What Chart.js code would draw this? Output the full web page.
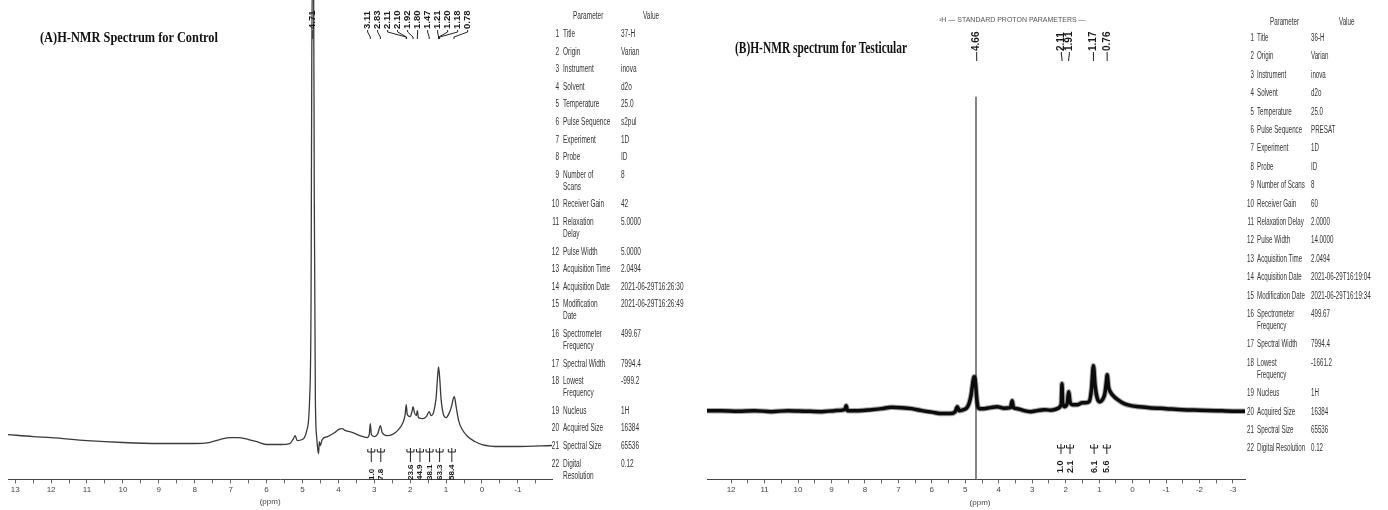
<!DOCTYPE html>
<html>
<head>
<meta charset="utf-8">
<script src="https://cdn.jsdelivr.net/npm/chart.js@4.4.1/dist/chart.umd.min.js"></script>
<style>
  body { margin: 0; background: #fff; }
  #page { position: relative; width: 1388px; height: 510px; overflow: hidden; background: #fff;
          font-family: "Liberation Sans", Arial, sans-serif; }
  .box { position: absolute; top: 0; height: 510px; }
  .t { position: absolute; white-space: pre; font-size: 10px; color: #333; }
  .ttl { position: absolute; white-space: nowrap; font-family: "Liberation Serif", "Times New Roman", serif;
         font-weight: bold; color: #111; transform-origin: 0 50%; }
  .std { position: absolute; white-space: nowrap; font-size: 7px; color: #555; }
</style>
</head>
<body>
<div id="page">
  <div class="box" id="boxA" style="left:0;width:556px"><canvas id="nmrA"></canvas></div>
  <div class="box" id="boxB" style="left:700px;width:548px"><canvas id="nmrB"></canvas></div>
  <div class="std" style="left:939px;top:16px">¹H — STANDARD PROTON PARAMETERS —</div>
</div>
<script>
// ---- data ----
// (A) control spectrum, ppm / intensity (arbitrary units)
const ctrlPpm = [13.2,12.5,12,11,10,9,8,7.6,7.3,7.0,6.8,6.5,6.2,6.0,5.6,5.35,5.25,5.2,5.15,5.0,4.88,4.8,4.76,4.74,4.72,4.69,4.67,4.64,4.6,4.57,4.55,4.53,4.5,4.45,4.3,4.1,4.0,3.9,3.8,3.6,3.4,3.2,3.14,3.11,3.08,3.0,2.9,2.83,2.78,2.65,2.5,2.35,2.2,2.14,2.11,2.08,2.0,1.95,1.92,1.88,1.83,1.80,1.77,1.65,1.55,1.47,1.42,1.35,1.28,1.24,1.21,1.18,1.14,1.08,1.0,0.92,0.85,0.8,0.77,0.72,0.65,0.55,0.4,0.2,0.0,-0.5,-1.0,-1.95];
const ctrlInt = [45,43,42,39,37,36,36,37,40,42,42,40,37,35,35,36,41,44,39,40,49,81,181,421,510,510,281,81,41,29,26,38,34,40,43,47,50,51,49,47,44,42,45,56,45,43,46,54,47,44,45,49,57,65,75,65,63,68,73,67,64,69,62,61,63,68,64,67,81,101,113,103,81,66,62,66,73,81,83,73,59,50,43,38,35,33,33,34];
const ctrlPeaks = [4.71,3.11,2.83,2.11,2.10,1.92,1.80,1.47,1.21,1.20,1.18,0.78];
const ctrlIntegralPpm = [3.08,2.82,1.99,1.73,1.46,1.18,0.84];
const ctrlIntegrals = ['1.0','7.8','23.6','44.9','38.1','63.3','58.4'];
const ctrlTicks = [13,12,11,10,9,8,7,6,5,4,3,2,1,0,-1];

// (B) testicular spectrum
const testPpm = [12.72,12.3,11.8,11.3,10.8,10.3,9.8,9.3,8.9,8.6,8.56,8.52,8.2,7.8,7.5,7.2,6.9,6.6,6.3,6.0,5.7,5.45,5.3,5.24,5.18,5.05,4.95,4.88,4.82,4.78,4.74,4.71,4.69,4.66,4.63,4.58,4.45,4.25,4.05,3.85,3.65,3.6,3.56,3.45,3.25,3.05,2.85,2.65,2.45,2.25,2.15,2.13,2.11,2.09,2.03,1.95,1.91,1.87,1.8,1.65,1.5,1.4,1.3,1.23,1.17,1.12,1.06,0.98,0.9,0.83,0.78,0.76,0.72,0.65,0.55,0.4,0.25,0.05,-0.2,-0.5,-1.0,-1.5,-2.0,-2.5,-3.0,-3.36];
const testInt = [69,69,68.5,69,68,69,68.5,68,69,70,74,69,69,70,71,72.5,72,71,69,67.5,66,66,68,73,69,70,72,77,86,96,103,101,95,82,74,71,71,72,73,71.5,72,79,72,71,69,68,69,70,69.5,71,74,77,96,77,73,77,88,78,75,75,77,77,78,90,114,94,82,78,80,86,99,105,93,87,83,79,76,74,73,72,71,70,69.5,69,68.5,68.5];
const testSpikePpm = [4.68,4.68];
const testSpikeInt = [384,-10];
const testPeaks = [4.66,2.11,1.91,1.17,0.76];
const testIntegralPpm = [2.14,1.87,1.15,0.77];
const testIntegrals = ['1.0','2.1','6.1','5.6'];
const testTicks = [12,11,10,9,8,7,6,5,4,3,2,1,0,-1,-2,-3];

// parameter tables
const paramNamesA = ['Title','Origin','Instrument','Solvent','Temperature','Pulse Sequence','Experiment','Probe','Number of\nScans','Receiver Gain','Relaxation\nDelay','Pulse Width','Acquisition Time','Acquisition Date','Modification\nDate','Spectrometer\nFrequency','Spectral Width','Lowest\nFrequency','Nucleus','Acquired Size','Spectral Size','Digital\nResolution'];
const paramValuesA = ['37-H','Varian','inova','d2o','25.0','s2pul','1D','ID','8','42','5.0000','5.0000','2.0494','2021-06-29T16:26:30','2021-06-29T16:26:49','499.67','7994.4','-999.2','1H','16384','65536','0.12'];
const paramNamesB = ['Title','Origin','Instrument','Solvent','Temperature','Pulse Sequence','Experiment','Probe','Number of Scans','Receiver Gain','Relaxation Delay','Pulse Width','Acquisition Time','Acquisition Date','Modification Date','Spectrometer\nFrequency','Spectral Width','Lowest\nFrequency','Nucleus','Acquired Size','Spectral Size','Digital Resolution'];
const paramValuesB = ['36-H','Varian','inova','d2o','25.0','PRESAT','1D','ID','8','60','2.0000','14.0000','2.0494','2021-06-29T16:19:04','2021-06-29T16:19:34','499.67','7994.4','-1661.2','1H','16384','65536','0.12'];

// ---- helpers ----
function toPoints(xs, ys) {
  return xs.map((x, i) => ({ x: x, y: ys[i] }));
}

// push overlapping labels apart, centred on their group
function spread(xs, gap) {
  let groups = xs.map(x => ({ sum: x, n: 1 }));
  let merged = true;
  while (merged) {
    merged = false;
    for (let i = 0; i < groups.length - 1; i++) {
      const a = groups[i], b = groups[i + 1];
      const aEnd = a.sum / a.n + (a.n - 1) * gap / 2;
      const bStart = b.sum / b.n - (b.n - 1) * gap / 2;
      if (bStart - aEnd < gap) {
        a.sum += b.sum; a.n += b.n;
        groups.splice(i + 1, 1);
        merged = true;
        break;
      }
    }
  }
  const out = [];
  groups.forEach(g => {
    const c = g.sum / g.n;
    for (let k = 0; k < g.n; k++) out.push(c + (k - (g.n - 1) / 2) * gap);
  });
  return out;
}

const nmrMarks = {
  id: 'nmrMarks',
  afterDatasetsDraw(chart, args, o) {
    const ctx = chart.ctx, xs = chart.scales.x;
    ctx.save();
    ctx.strokeStyle = '#222';
    ctx.fillStyle = '#1a1a1a';
    ctx.lineWidth = 1;
    ctx.textAlign = 'left';
    ctx.textBaseline = 'middle';

    // peak picking labels
    const ax = o.peaks.map(p => xs.getPixelForValue(p));
    const lx = spread(ax, o.peakGap);
    ctx.font = o.peakFont;
    o.peaks.forEach((p, i) => {
      ctx.save();
      ctx.translate(lx[i], o.peakY);
      ctx.rotate(-Math.PI / 2);
      ctx.fillText(p.toFixed(2), 0, 0);
      ctx.restore();
      ctx.beginPath();
      ctx.moveTo(lx[i], o.peakY + 1);
      ctx.lineTo(lx[i], o.peakY + 3);
      ctx.lineTo(ax[i], o.peakY + 8);
      ctx.lineTo(ax[i], o.peakY + 10);
      ctx.stroke();
    });

    // integrals under the curve
    const ix = spread(o.intPpm.map(p => xs.getPixelForValue(p)), o.intGap);
    ctx.font = o.intFont;
    o.intVals.forEach((v, i) => {
      const x = ix[i], y = o.intY;
      ctx.beginPath();
      ctx.moveTo(x - 3.5, y - 3); ctx.lineTo(x - 3.5, y);
      ctx.lineTo(x + 3.5, y); ctx.lineTo(x + 3.5, y - 3);
      ctx.moveTo(x, y - 4); ctx.lineTo(x, y + o.intStem);
      ctx.stroke();
      ctx.save();
      ctx.translate(x, o.intTextY);
      ctx.rotate(-Math.PI / 2);
      ctx.fillText(v, 0, 0);
      ctx.restore();
    });

    // axis title
    ctx.font = '8px "Liberation Sans", Arial, sans-serif';
    ctx.fillStyle = '#444';
    ctx.textAlign = 'center';
    ctx.fillText('(ppm)', xs.getPixelForValue(o.ppmAt), o.ppmY);
    ctx.restore();
  }
};

function makeSpectrum(id, o) {
  const labelTicks = o.ticks;
  const allTicks = [];
  labelTicks.forEach(t => { allTicks.push(t); allTicks.push(t - 0.5); });
  return new Chart(document.getElementById(id), {
    type: 'line',
    data: { datasets: o.datasets },
    options: {
      responsive: true,
      maintainAspectRatio: false,
      animation: false,
      parsing: false,
      normalized: true,
      layout: { padding: o.padding },
      elements: { point: { radius: 0 } },
      plugins: {
        legend: { display: false },
        tooltip: { enabled: false },
        nmrMarks: o.marks
      },
      scales: {
        x: {
          type: 'linear',
          reverse: true,
          min: o.min,
          max: o.max,
          afterBuildTicks: s => {
            s.ticks = allTicks.filter(v => v >= o.min && v <= o.max).map(v => ({ value: v }));
          },
          ticks: {
            autoSkip: false,
            maxRotation: 0,
            padding: 2,
            color: '#444',
            font: { family: '"Liberation Sans", Arial, sans-serif', size: 8 },
            callback: v => labelTicks.includes(v) ? String(v) : ''
          },
          grid: { drawOnChartArea: false, drawTicks: true, tickLength: 4, color: '#666' },
          border: { display: true, color: '#444', width: 1 }
        },
        y: { display: false, min: 0, max: 481 }
      }
    },
    plugins: [nmrMarks]
  });
}

makeSpectrum('nmrA', {
  min: -1.95, max: 13.2,
  ticks: ctrlTicks,
  padding: { left: 8, right: 4, top: 0, bottom: 13 },
  datasets: [{
    data: toPoints(ctrlPpm, ctrlInt),
    borderColor: '#3a3a3a', borderWidth: 1.3,
    cubicInterpolationMode: 'monotone'
  }],
  marks: {
    peaks: ctrlPeaks, peakGap: 10, peakY: 29,
    peakFont: 'bold 9.5px "Liberation Sans", Arial, sans-serif',
    intPpm: ctrlIntegralPpm, intVals: ctrlIntegrals, intGap: 9.5,
    intY: 452, intStem: 10, intTextY: 480,
    intFont: 'bold 8px "Liberation Sans", Arial, sans-serif',
    ppmAt: 5.9, ppmY: 502
  }
});

makeSpectrum('nmrB', {
  min: -3.36, max: 12.72,
  ticks: testTicks,
  padding: { left: 7, right: 3, top: 0, bottom: 13 },
  datasets: [{
    data: toPoints(testPpm, testInt),
    borderColor: 'rgba(0,0,0,0.35)', borderWidth: 5.5,
    cubicInterpolationMode: 'monotone'
  }, {
    data: toPoints(testPpm, testInt),
    borderColor: '#111', borderWidth: 3.5,
    cubicInterpolationMode: 'monotone'
  }, {
    data: toPoints(testSpikePpm, testSpikeInt),
    borderColor: '#444', borderWidth: 1.3
  }],
  marks: {
    peaks: testPeaks, peakGap: 8, peakY: 51,
    peakFont: 'bold 10px "Liberation Sans", Arial, sans-serif',
    intPpm: testIntegralPpm, intVals: testIntegrals, intGap: 8,
    intY: 448, intStem: 6, intTextY: 473,
    intFont: 'bold 9px "Liberation Sans", Arial, sans-serif',
    ppmAt: 4.56, ppmY: 503
  }
});

// ---- titles and parameter tables (html text) ----
const page = document.getElementById('page');

function addText(txt, cls, css) {
  const d = document.createElement('div');
  d.className = cls;
  d.textContent = txt;
  Object.assign(d.style, css);
  page.appendChild(d);
  return d;
}

function addTitle(txt, x, y, size, width) {
  const d = addText(txt, 'ttl', { left: x + 'px', top: (y - size * 0.6) + 'px', fontSize: size + 'px' });
  const w = d.getBoundingClientRect().width;
  d.style.transform = 'scaleX(' + (width / w).toFixed(3) + ')';
}

addTitle('(A)H-NMR Spectrum for Control', 40, 38, 15, 178);
addTitle('(B)H-NMR spectrum for Testicular', 735, 48, 17, 172);

function addTable(names, values, o) {
  const sx = 'scaleX(' + o.sx + ')';
  const lh = o.lineH;
  addText('Parameter', 't', { left: o.headX + 'px', top: (o.headY - lh / 2) + 'px', lineHeight: lh + 'px', transform: sx, transformOrigin: '0 50%' });
  addText('Value', 't', { left: o.valueHeadX + 'px', top: (o.headY - lh / 2) + 'px', lineHeight: lh + 'px', transform: sx, transformOrigin: '0 50%' });
  let y = o.firstY;
  names.forEach((name, i) => {
    const top = (y - lh / 2) + 'px';
    addText(String(i + 1), 't', { left: (o.numRight - 30) + 'px', width: '30px', textAlign: 'right', top: top,
      lineHeight: lh + 'px', transform: sx, transformOrigin: '100% 50%' });
    addText(name, 't', { left: o.labelX + 'px', top: top, lineHeight: lh + 'px', transform: sx, transformOrigin: '0 0' });
    addText(values[i], 't', { left: o.valueX + 'px', top: top, lineHeight: lh + 'px', transform: sx, transformOrigin: '0 50%' });
    y += o.step + (name.split('\n').length - 1) * lh;
  });
}

addTable(paramNamesA, paramValuesA, {
  sx: 0.65, lineH: 12, headX: 573, valueHeadX: 643, headY: 16,
  firstY: 34, step: 17.6, numRight: 559, labelX: 563, valueX: 621
});
addTable(paramNamesB, paramValuesB, {
  sx: 0.62, lineH: 12, headX: 1270, valueHeadX: 1339, headY: 22,
  firstY: 38, step: 18.4, numRight: 1254, labelX: 1257, valueX: 1311
});
</script>
</body>
</html>
